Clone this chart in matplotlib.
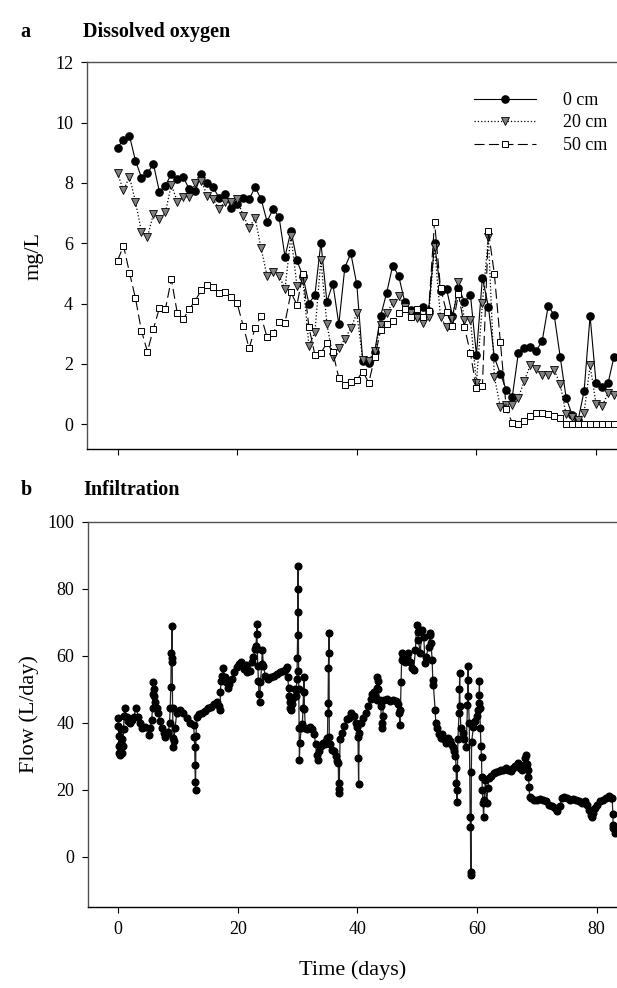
import numpy as np
import matplotlib
matplotlib.use("Agg")
import matplotlib.pyplot as plt

plt.rcParams['font.family'] = ['Liberation Serif', 'DejaVu Serif']

# dissolved oxygen, one reading per day (mg/L)
do_days = np.arange(0, 84)
do_0cm = [9.17, 9.43, 9.56, 8.74, 8.18, 8.32, 8.63, 7.71, 7.91, 8.30,
          8.14, 8.19, 7.79, 7.72, 8.29, 7.99, 7.85, 7.50, 7.63, 7.17,
          7.30, 7.50, 7.46, 7.86, 7.47, 6.72, 7.13, 6.88, 5.55, 6.42,
          5.43, 4.90, 4.00, 4.29, 6.02, 4.07, 4.66, 3.32, 5.19, 5.67,
          4.64, 2.10, 2.02, 2.41, 3.60, 4.36, 5.26, 4.92, 4.07, 3.79,
          3.62, 3.88, 3.76, 6.00, 4.43, 4.49, 3.59, 4.53, 4.07, 4.29,
          2.30, 4.86, 3.90, 2.22, 1.67, 1.14, 0.92, 2.35, 2.52, 2.57,
          2.43, 2.77, 3.92, 3.62, 2.24, 0.88, 0.31, 0.14, 1.10, 3.59,
          1.36, 1.23, 1.36, 2.24]
do_20cm = [8.32, 7.75, 8.21, 7.38, 6.39, 6.20, 6.97, 6.80, 7.02, 7.94,
           7.38, 7.53, 7.55, 7.99, 8.07, 7.58, 7.46, 7.14, 7.38, 7.38,
           7.46, 6.92, 6.52, 6.83, 5.84, 4.92, 5.06, 4.93, 4.48, 6.25,
           4.59, 4.75, 2.61, 3.05, 5.45, 3.33, 2.24, 2.52, 2.83, 3.18,
           3.68, 2.13, 2.11, 2.44, 3.30, 3.70, 4.01, 4.26, 3.90, 3.68,
           3.51, 3.37, 3.57, 5.87, 3.54, 3.23, 3.50, 4.73, 3.47, 3.47,
           1.37, 4.01, 6.21, 1.57, 0.58, 0.65, 0.65, 0.88, 1.43, 1.97,
           1.83, 1.62, 1.62, 1.80, 1.33, 0.33, 0.25, 0.14, 0.38, 1.95,
           0.68, 0.60, 1.03, 0.97]
do_50cm = [5.42, 5.92, 5.03, 4.18, 3.10, 2.41, 3.16, 3.85, 3.81, 4.81,
           3.68, 3.49, 3.82, 4.10, 4.45, 4.62, 4.56, 4.36, 4.40, 4.22,
           4.01, 3.27, 2.52, 3.19, 3.58, 2.89, 3.02, 3.40, 3.37, 4.37,
           3.96, 4.98, 3.22, 2.30, 2.35, 2.71, 2.39, 1.53, 1.30, 1.41,
           1.47, 1.75, 1.38, 2.22, 3.13, 3.33, 3.44, 3.68, 3.81, 3.55,
           3.81, 3.55, 3.74, 6.71, 4.51, 3.72, 3.25, 4.32, 3.22, 2.35,
           1.19, 1.27, 6.41, 4.98, 2.74, 0.50, 0.05, 0.00, 0.10, 0.28,
           0.37, 0.38, 0.35, 0.28, 0.22, 0.00, 0.00, 0.00, 0.00, 0.00,
           0.00, 0.00, 0.00, 0.00]

# infiltration flow (L/day)
flow_day = [0.0, 0.05, 0.1, 0.15, 0.2, 0.3, 0.4, 0.5, 0.6, 0.7, 0.8, 0.9, 1.0, 1.1,
            1.4, 1.7, 2.0, 2.3, 2.6, 3.0, 3.4, 3.7, 4.0, 4.5, 5.1, 5.4, 5.6,
            5.75, 5.85, 5.9, 5.95, 6.05, 6.2, 6.45, 6.7, 7.0, 7.3, 7.6, 7.9, 8.1, 8.4, 8.6,
            8.7, 8.8, 8.9, 8.95, 9.0, 9.05, 9.1, 9.2, 9.25, 9.3, 9.5, 9.8,
            10.1, 10.4, 10.9, 11.5, 12.0, 12.6, 12.75, 12.8, 12.85, 12.9, 12.95, 13.0,
            13.2, 13.6, 14.0, 14.5, 15.0, 15.5, 16.0, 16.5, 16.9,
            17.05, 17.1, 17.2, 17.4, 17.6, 17.8, 18.0, 18.3, 18.6, 19.0, 19.4, 19.8, 20.2, 20.6,
            21.0, 21.3, 21.6, 22.0, 22.3, 22.6, 22.9,
            23.05, 23.15, 23.2, 23.25, 23.35, 23.45, 23.55, 23.65, 23.8, 24.0, 24.1, 24.3, 24.6,
            25.0, 25.5, 26.0, 26.5, 27.0, 27.5, 28.0, 28.2, 28.35, 28.5, 28.6, 28.7, 28.8, 28.9,
            29.1, 29.3, 29.5, 29.7, 29.9,
            29.95, 30.0, 30.02, 30.05, 30.1, 30.15, 30.2, 30.25, 30.3, 30.4, 30.6, 30.8, 30.9,
            31.0, 31.05, 31.15,
            31.3, 31.6, 32.0, 32.4, 32.8, 33.0, 33.2, 33.4, 33.6, 33.9, 34.2, 34.5, 34.8, 35.0,
            35.05, 35.1, 35.15, 35.2, 35.25, 35.3, 35.5, 35.8, 36.1, 36.4, 36.6, 36.8, 36.85,
            36.9, 36.95, 37.1,
            37.4, 37.8, 38.2, 38.6, 39.0, 39.4, 39.8, 40.0, 40.1, 40.15, 40.2, 40.3,
            40.6, 41.0, 41.4, 41.8, 42.2, 42.5, 42.7, 43.0, 43.25, 43.3, 43.35, 43.4, 43.5,
            43.7, 43.9, 44.05, 44.1, 44.2,
            44.5, 45.0, 45.5, 46.0, 46.5, 46.8, 47.0, 47.1, 47.2, 47.3, 47.4, 47.5,
            47.7, 48.0, 48.3, 48.5, 48.8, 49.1, 49.4, 49.7, 49.9, 50.1, 50.2, 50.5, 50.8,
            51.1, 51.3, 51.5, 51.9, 52.1, 52.2, 52.3, 52.5, 52.6, 52.7,
            53.0, 53.1, 53.3, 53.6, 53.9, 54.2, 54.5, 54.8, 55.1, 55.4, 55.7, 56.0, 56.2,
            56.4, 56.5, 56.55, 56.6, 56.65,
            56.8, 57.0, 57.05, 57.1, 57.15, 57.3, 57.6, 57.9, 58.2, 58.4, 58.45, 58.5, 58.55,
            58.7, 58.85, 58.9, 58.95, 59.0, 59.05, 59.1,
            59.4, 59.7, 60.0, 60.2, 60.3, 60.35, 60.4, 60.45, 60.55, 60.65, 60.75, 60.8, 60.9,
            61.0, 61.1, 61.2, 61.4, 61.6, 61.8,
            62.0, 62.4, 62.8, 63.2, 63.6, 64.0, 64.4, 64.8, 65.2, 65.6, 66.0, 66.4, 66.8,
            67.2, 67.5, 67.8,
            68.0, 68.2, 68.3, 68.5, 68.6, 68.7, 68.8,
            69.0, 69.5, 70.0, 70.5, 71.0, 71.5, 72.0, 72.5, 73.0, 73.4, 73.8, 74.2, 74.6,
            75.0, 75.5, 76.0, 76.5, 77.0, 77.5, 78.0, 78.4, 78.8, 79.0, 79.2, 79.4, 79.7,
            80.0, 80.5, 81.0, 81.5, 82.0, 82.4, 82.6, 82.7, 82.75, 82.8, 83.0]
flow_lpd = [41.5, 39.0, 36.0, 33.0, 31.0, 30.5, 34.0, 38.0, 35.0, 31.0, 33.0, 38.0, 42.0, 44.5,
            41.8, 40.5, 39.8, 40.8, 41.8, 44.3, 41.8, 40.0, 38.3, 38.8, 36.3, 38.5, 40.8,
            44.3, 48.5, 52.2, 50.0, 48.0, 46.3, 44.5, 42.8, 40.5, 38.3, 37.0, 35.8, 36.5, 37.3, 40.0,
            44.3, 50.7, 60.7, 59.2, 68.9, 58.0, 44.3, 35.3, 32.8, 34.5, 38.3, 42.8,
            43.5, 43.8, 42.8, 41.3, 39.8, 39.3, 35.8, 32.8, 27.4, 22.4, 19.9, 36.0,
            41.8, 42.5, 43.0, 43.5, 44.3, 44.8, 45.5, 46.3, 45.0,
            43.8, 49.3, 52.5, 54.0, 56.2, 53.7, 52.0, 50.5, 51.5, 53.0, 55.0, 56.5, 57.5, 58.0,
            56.0, 57.2, 55.0, 55.5, 58.0, 59.5, 62.0,
            63.0, 66.5, 69.4, 62.0, 57.0, 52.5, 48.5, 46.3, 52.0, 57.5, 61.7, 57.0, 54.0,
            53.0, 53.5, 54.0, 54.5, 55.0, 55.5, 56.0, 56.7, 53.5, 50.5, 48.0, 46.3, 44.5, 43.8,
            45.5, 47.5, 50.0, 48.0, 53.0,
            59.2, 66.2, 79.8, 86.9, 73.0, 55.4, 50.2, 38.3, 29.0, 33.8, 38.5, 39.5, 44.3,
            49.3, 53.7, 44.0,
            38.5, 38.0, 38.8, 38.0, 36.5, 33.5, 30.5, 29.0, 31.5, 33.0, 34.0, 33.5, 34.5, 35.3,
            42.8, 45.8, 56.4, 60.7, 66.7, 35.8, 33.5, 32.0, 31.5, 30.0, 28.5, 27.9, 22.0,
            20.3, 19.1, 35.0,
            37.0, 39.0, 41.0, 41.5, 42.8, 42.0, 40.0, 38.8, 35.8, 29.4, 21.7, 37.0,
            40.0, 41.5, 43.0, 45.0, 47.0, 48.5, 49.3, 48.0, 46.8, 50.5, 53.7, 52.5, 50.0,
            46.8, 45.0, 40.0, 38.3, 42.0,
            46.8, 47.0, 46.5, 46.8, 46.5, 45.5, 42.8, 39.3, 43.8, 52.2, 58.7, 60.7,
            59.7, 58.2, 59.7, 60.7, 58.2, 56.2, 55.7, 61.7, 69.2, 67.2, 64.7, 60.7, 67.7,
            65.7, 57.7, 59.7, 62.7, 66.2, 66.7, 63.7, 58.7, 52.7, 51.2,
            43.8, 39.8, 38.3, 36.5, 35.5, 36.5, 35.0, 34.0, 35.5, 34.5, 33.5, 32.8, 31.5,
            30.0, 26.4, 22.0, 19.9, 16.4,
            35.0, 42.8, 50.0, 54.9, 45.0, 38.3, 36.8, 35.0, 32.8, 45.3, 52.7, 56.9, 48.0,
            40.0, 11.9, 9.0, -4.5, -5.5, 25.4, 34.3,
            38.8, 40.5, 42.0, 43.8, 46.0, 48.3, 52.5, 44.3, 38.3, 33.0, 29.9, 23.9, 20.0,
            15.9, 11.9, 17.0, 22.9, 15.9, 20.5,
            23.5, 24.0, 24.9, 25.2, 25.5, 25.9, 26.0, 26.4, 26.0, 25.5, 26.4, 27.0, 28.0,
            26.5, 26.0, 27.5,
            29.4, 30.3, 27.8, 25.9, 23.9, 20.9, 17.9,
            17.5, 17.0, 16.8, 17.2, 17.0, 16.5, 15.5, 15.0, 14.5, 13.5, 15.0, 17.5, 17.8,
            17.5, 17.0, 17.2, 16.8, 16.5, 16.0, 16.5, 15.5, 14.0, 12.5, 12.0, 13.0, 14.5,
            15.5, 16.5, 17.0, 17.5, 18.0, 17.5, 17.5, 12.9, 9.5, 8.5, 7.0]
assert len(flow_day) == len(flow_lpd), (len(flow_day), len(flow_lpd))

xticks = [0, 20, 40, 60, 80]
spine_col = '#505050'

fig = plt.figure(figsize=(6.17, 9.88), dpi=100)

# ---- panel a ----
ax1 = fig.add_axes([0.141, 0.5455, 0.859, 0.3915])
ax1.plot(do_days, do_0cm, '-', color='black', lw=0.8, marker='o', ms=5.2,
         mfc='black', mec='black', label='0 cm')
ax1.plot(do_days, do_20cm, ':', color='black', lw=0.9, marker='v', ms=5.6,
         mfc='#808080', mec='black', mew=0.6, label='20 cm')
ax1.plot(do_days, do_50cm, color='black', lw=0.8, dashes=(9, 4), marker='s', ms=4.6,
         mfc='white', mec='black', mew=0.7, label='50 cm')
ax1.set_xlim(-5.1, 83.5)
ax1.set_ylim(-0.82, 12)
ax1.set_yticks(range(0, 13, 2))
ax1.set_xticks(xticks)
ax1.tick_params(axis='x', labelbottom=False)
ax1.set_ylabel('mg/L', fontsize=16, labelpad=8)
leg = ax1.legend(loc='upper right', bbox_to_anchor=(1.012, 0.965), frameon=False,
                 fontsize=13, handlelength=3.4, handletextpad=1.5, labelspacing=0.3)

# ---- panel b ----
ax2 = fig.add_axes([0.143, 0.082, 0.857, 0.390])
ax2.plot(flow_day, flow_lpd, '-', color='#202020', lw=0.9, marker='o', ms=4.8,
         mfc='black', mec='black')
ax2.set_xlim(-5.0, 83.4)
ax2.set_ylim(-15, 100)
ax2.set_yticks(range(0, 101, 20))
ax2.set_xticks(xticks)
ax2.set_ylabel('Flow (L/day)', fontsize=16, labelpad=6)
ax2.set_xlabel('Time (days)', fontsize=16, labelpad=16)

for ax in (ax1, ax2):
    ax.spines['right'].set_visible(False)
    ax.spines['left'].set_color(spine_col)
    ax.spines['top'].set_color(spine_col)
    ax.spines['bottom'].set_color('black')
    for s in ax.spines.values():
        s.set_linewidth(1.0)
    ax.tick_params(direction='out', length=4, width=0.8, labelsize=13, pad=6)

fig.text(0.033, 0.968, 'a', fontsize=14.5, fontweight='bold', va='center')
fig.text(0.135, 0.968, 'Dissolved oxygen', fontsize=14.5, fontweight='bold', va='center')
fig.text(0.033, 0.504, 'b', fontsize=14.5, fontweight='bold', va='center')
fig.text(0.135, 0.504, 'Infiltration', fontsize=14.5, fontweight='bold', va='center')

fig.savefig('out.png', dpi=100)
